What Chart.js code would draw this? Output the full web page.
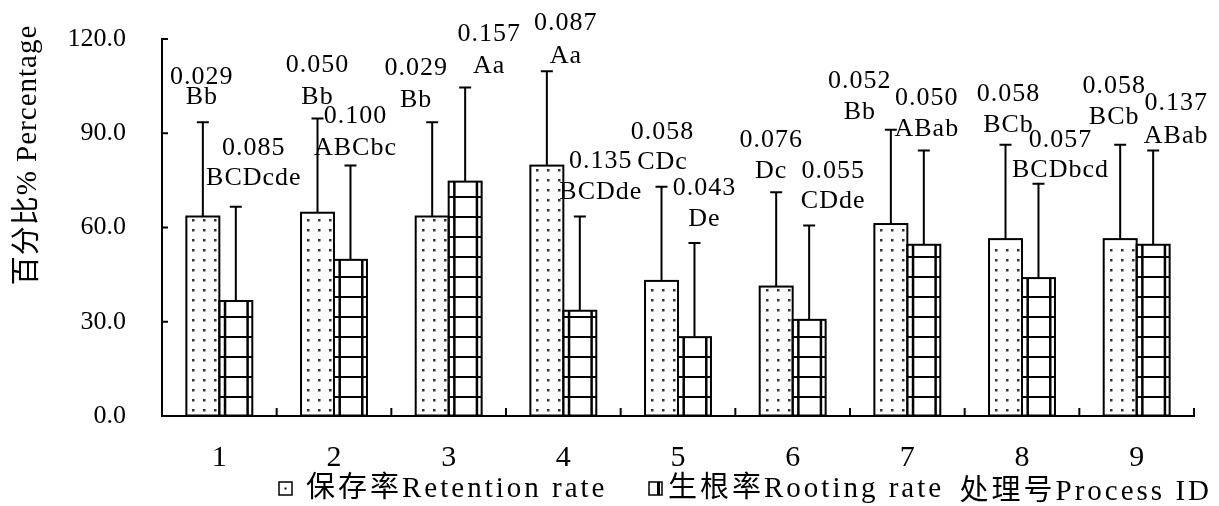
<!DOCTYPE html>
<html>
<head>
<meta charset="utf-8">
<script src="https://cdn.jsdelivr.net/npm/chart.js@4"></script>
<style>
  html, body { margin: 0; padding: 0; background: #fff; }
</style>
</head>
<body>
<canvas id="chart" width="1219" height="506"></canvas>
<script>
// Data
const processIds = ["1", "2", "3", "4", "5", "6", "7", "8", "9"];
const retentionRate = [63.5, 64.7, 63.5, 79.7, 43.0, 41.2, 61.1, 56.3, 56.3];
const rootingRate = [36.6, 49.7, 74.6, 33.5, 25.1, 30.6, 54.5, 43.9, 54.5];
const retentionErr = [30, 30, 30, 30, 30, 30, 30, 30, 30];
const rootingErr = [30, 30, 30, 30, 30, 30, 30, 30, 30];
const retentionP = ["0.029", "0.050", "0.029", "0.087", "0.058", "0.076", "0.052", "0.058", "0.058"];
const retentionSig = ["Bb", "Bb", "Bb", "Aa", "CDc", "Dc", "Bb", "BCb", "BCb"];
const rootingP = ["0.085", "0.100", "0.157", "0.135", "0.043", "0.055", "0.050", "0.057", "0.137"];
const rootingSig = ["BCDcde", "ABCbc", "Aa", "BCDde", "De", "CDde", "ABab", "BCDbcd", "ABab"];
const yTicks = [0, 30, 60, 90, 120];

// label placement relative to the error bar top: [dx, dy line 1, dy line 2]
const retentionLabelPos = [
  [-1, -45, -25], [0, -53, -21], [-16, -54, -22], [19, -48, -15], [1, -54, -24],
  [-5, -52, -21], [-31, -49, -18], [3, -51, -20], [-6, -59, -28],
];
const rootingLabelPos = [
  [18, -59, -29], [5, -49, -17], [24, -53, -21], [21, -55, -24], [10, -55, -24],
  [24, -54, -24], [3, -52, -21], [22, -44, -14], [23, -47, -14],
];

const FONT = "'Liberation Serif', 'Noto Sans CJK SC', serif";

const drawDots = (ctx, left, top, base, width) => {
  ctx.fillStyle = "#333";
  const cols = [7, 18, 29].map((f) => left + (f * width) / 33);
  for (let y = base - 6; y > top + 2; y -= 10) {
    cols.forEach((x) => ctx.fillRect(Math.round(x) - 1, Math.round(y) - 1, 2.5, 2.5));
  }
};

const drawGrid = (ctx, left, top, base, width) => {
  ctx.strokeStyle = "#000";
  ctx.lineWidth = 2;
  for (let y = base - 18.5; y > top; y -= 20) {
    ctx.beginPath();
    ctx.moveTo(left, y);
    ctx.lineTo(left + width, y);
    ctx.stroke();
  }
  ctx.lineWidth = 2.5;
  [5.7, 28.3].forEach((f) => {
    const x = left + (f * width) / 33;
    ctx.beginPath();
    ctx.moveTo(x, top);
    ctx.lineTo(x, base);
    ctx.stroke();
  });
};

const decorPlugin = {
  id: "decor",
  afterDatasetsDraw(chart) {
    const ctx = chart.ctx;
    const area = chart.chartArea;
    const xs = chart.scales.x;
    const ys = chart.scales.y;
    const errs = [retentionErr, rootingErr];
    const pTexts = [retentionP, rootingP];
    const sigTexts = [retentionSig, rootingSig];
    const labelPos = [retentionLabelPos, rootingLabelPos];

    ctx.save();
    chart.data.datasets.forEach((ds, di) => {
      const meta = chart.getDatasetMeta(di);
      meta.data.forEach((bar, i) => {
        const p = bar.getProps(["x", "y", "base", "width"], true);
        const left = p.x - p.width / 2;

        // fill pattern
        ctx.save();
        ctx.beginPath();
        ctx.rect(left, p.y, p.width, p.base - p.y);
        ctx.clip();
        if (di === 0) drawDots(ctx, left, p.y, p.base, p.width);
        else drawGrid(ctx, left, p.y, p.base, p.width);
        ctx.restore();

        // outline
        ctx.strokeStyle = "#000";
        ctx.lineWidth = 2;
        ctx.strokeRect(left, p.y, p.width, p.base - p.y);

        // error bar (upper only)
        const yTop = ys.getPixelForValue(ds.data[i] + errs[di][i]);
        ctx.beginPath();
        ctx.moveTo(p.x, p.y);
        ctx.lineTo(p.x, yTop);
        ctx.moveTo(p.x - 6, yTop);
        ctx.lineTo(p.x + 6, yTop);
        ctx.stroke();

        // p value and significance letters
        const [dx, dy1, dy2] = labelPos[di][i];
        ctx.fillStyle = "#000";
        ctx.font = "26px " + FONT;
        ctx.letterSpacing = "1px";
        ctx.textAlign = "center";
        ctx.textBaseline = "middle";
        ctx.fillText(pTexts[di][i], p.x + dx, yTop + dy1);
        ctx.fillText(sigTexts[di][i], p.x + dx, yTop + dy2);
        ctx.letterSpacing = "0px";
      });
    });

    // inward tick marks
    ctx.strokeStyle = "#000";
    ctx.lineWidth = 2;
    yTicks.forEach((v) => {
      const y = ys.getPixelForValue(v);
      ctx.beginPath();
      ctx.moveTo(area.left, y);
      ctx.lineTo(area.left + 6, y);
      ctx.stroke();
    });
    for (let k = 1; k <= processIds.length; k++) {
      const x = xs.getPixelForValue(k - 0.5);
      ctx.beginPath();
      ctx.moveTo(x, area.bottom);
      ctx.lineTo(x, area.bottom - 8);
      ctx.stroke();
    }
    ctx.restore();
  },
  afterDraw(chart) {
    const ctx = chart.ctx;
    ctx.save();
    ctx.fillStyle = "#000";
    ctx.strokeStyle = "#000";

    // y axis title
    ctx.save();
    ctx.translate(28, 155);
    ctx.rotate(-Math.PI / 2);
    ctx.font = "29px " + FONT;
    ctx.letterSpacing = "1px";
    ctx.textAlign = "center";
    ctx.textBaseline = "middle";
    ctx.fillText("百分比% Percentage", 0, 0);
    ctx.restore();

    // legend row
    const ly = 489;
    ctx.font = "29px " + FONT;
    ctx.letterSpacing = "3px";
    ctx.textAlign = "left";
    ctx.textBaseline = "middle";
    ctx.lineWidth = 1.5;

    ctx.strokeRect(279, ly - 7, 13, 13);
    ctx.fillRect(284.5, ly - 1.5, 2, 2);
    ctx.fillText(chart.data.datasets[0].label, 306, ly);

    ctx.strokeRect(649, ly - 7, 13, 13);
    ctx.fillRect(657, ly - 7, 3, 13);
    ctx.fillText(chart.data.datasets[1].label, 668, ly);

    ctx.textAlign = "right";
    ctx.fillText("处理号Process ID", 1212, ly + 3);
    ctx.restore();
  },
};

new Chart(document.getElementById("chart"), {
  type: "bar",
  data: {
    labels: processIds,
    datasets: [
      {
        label: "保存率Retention rate",
        data: retentionRate,
        backgroundColor: "#fff",
        borderWidth: 0,
      },
      {
        label: "生根率Rooting rate",
        data: rootingRate,
        backgroundColor: "#fff",
        borderWidth: 0,
      },
    ],
  },
  options: {
    responsive: false,
    animation: false,
    devicePixelRatio: 1,
    categoryPercentage: 0.575,
    barPercentage: 1,
    layout: {
      padding: { top: 39, right: 25, left: 0, bottom: 0 },
    },
    plugins: {
      legend: { display: false },
      tooltip: { enabled: false },
    },
    scales: {
      x: {
        grid: { display: false },
        border: { display: true, color: "#000", width: 2 },
        ticks: {
          color: "#000",
          font: { family: FONT, size: 30 },
          padding: 16,
        },
        afterFit: (scale) => {
          scale.height = 90;
        },
      },
      y: {
        min: 0,
        max: 120,
        afterBuildTicks: (scale) => {
          scale.ticks = yTicks.map((v) => ({ value: v }));
        },
        // invisible tick marks only push the labels away from the axis
        grid: {
          drawOnChartArea: false,
          drawTicks: true,
          tickLength: 30,
          tickColor: "rgba(0,0,0,0)",
        },
        border: { display: true, color: "#000", width: 2 },
        ticks: {
          color: "#000",
          font: { family: FONT, size: 26 },
          padding: 6,
          callback: (value) => Number(value).toFixed(1),
        },
        afterFit: (scale) => {
          scale.width = 162;
        },
      },
    },
  },
  plugins: [decorPlugin],
});
</script>
</body>
</html>
